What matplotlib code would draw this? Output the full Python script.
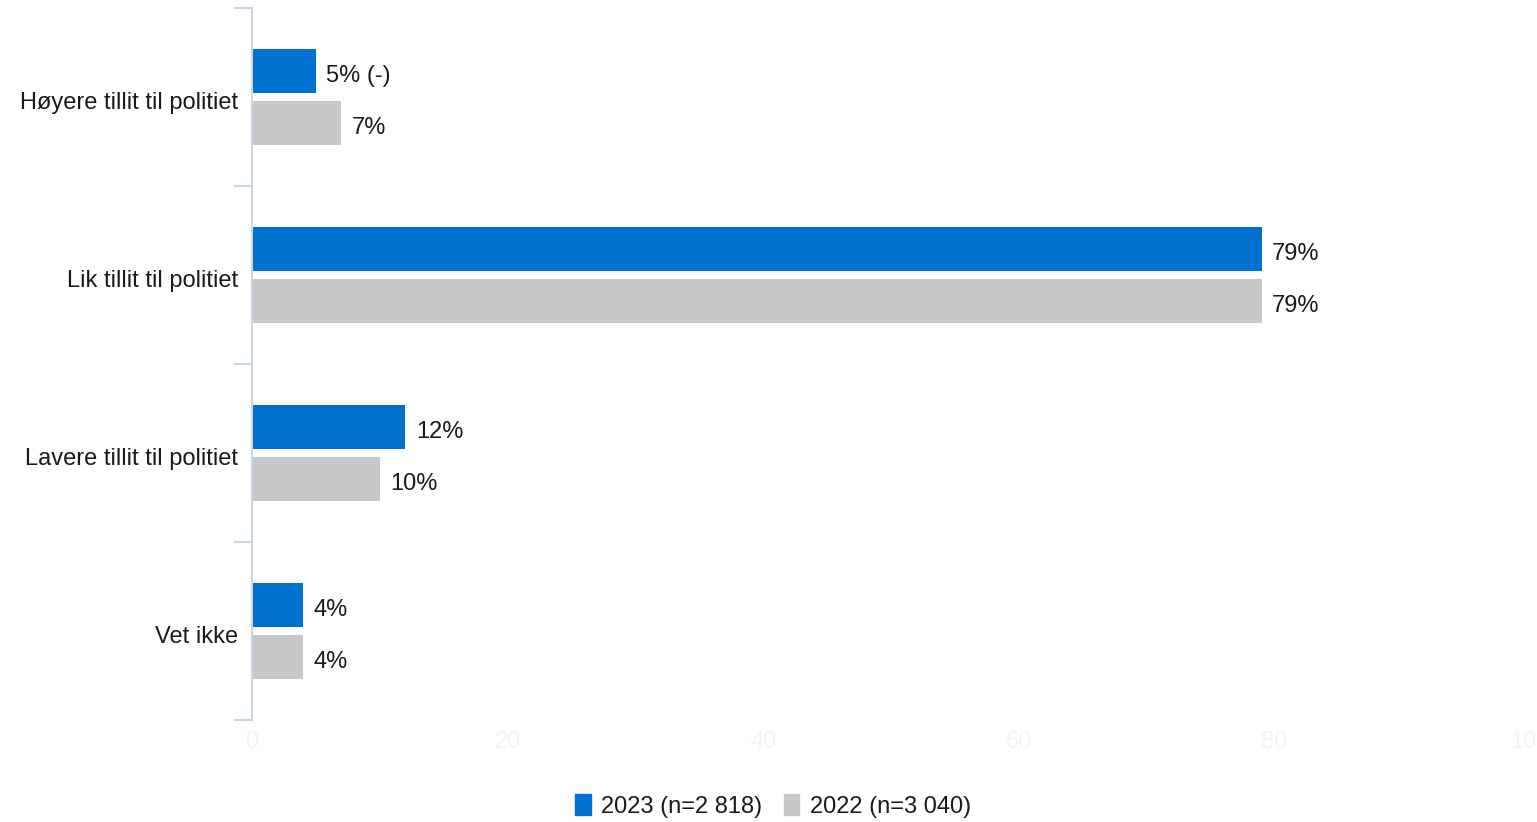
import numpy as np
import matplotlib
matplotlib.use('Agg')
import matplotlib.pyplot as plt
import matplotlib.transforms as mtransforms
from matplotlib.patches import Patch

plt.rcParams['font.family'] = ['Liberation Sans', 'DejaVu Sans']

categories = ['Høyere tillit til politiet', 'Lik tillit til politiet',
              'Lavere tillit til politiet', 'Vet ikke']
vals_2023 = [5, 79, 12, 4]
vals_2022 = [7, 79, 10, 4]
labels_2023 = ['5% (-)', '79%', '12%', '4%']
labels_2022 = ['7%', '79%', '10%', '4%']
series_names = ['2023 (n=2 818)', '2022 (n=3 040)']
xticks = [0, 20, 40, 60, 80, 100]

blue = '#0071CE'
gray = '#C7C8CA'
spine_col = '#CAD5E2'
txt = '#1A1A1A'
fs = 17

fig = plt.figure(figsize=(15.37, 8.22), dpi=100)
ax = fig.add_axes([252 / 1537, 1 - 720 / 822, (1530 - 252) / 1537, (720 - 8) / 822])

y = np.arange(len(categories))
off = 0.146
h = 0.247
b1 = ax.barh(y - off, vals_2023, height=h, color=blue)
b2 = ax.barh(y + off, vals_2022, height=h, color=gray)

# value labels to the right of each bar
for bars, labs in ((b1, labels_2023), (b2, labels_2022)):
    for rect, lab in zip(bars, labs):
        ax.annotate(lab, (rect.get_width(), rect.get_y() + rect.get_height() / 2),
                    xytext=(7.5, -3.5), textcoords='offset points', va='center', ha='left',
                    fontsize=fs, color=txt)

ax.set_xlim(0, 100)
ax.set_ylim(len(categories) - 0.5, -0.5)
ax.set_xticks(xticks)
ax.set_xticklabels([str(t) for t in xticks], color='#F3F4F6', fontsize=fs)
ax.tick_params(axis='x', length=0, pad=8)

ax.set_yticks(y)
ax.set_yticklabels(categories, fontsize=fs, color=txt)
ax.tick_params(axis='y', which='major', length=0, pad=10)
shift = mtransforms.ScaledTranslation(0, -3 / 100, fig.dpi_scale_trans)
for lab in ax.get_yticklabels():
    lab.set_transform(lab.get_transform() + shift)
ax.set_yticks(np.arange(len(categories) + 1) - 0.5, minor=True)
ax.tick_params(axis='y', which='minor', length=13, width=1.5, color=spine_col)

for s in ('top', 'right', 'bottom'):
    ax.spines[s].set_visible(False)
ax.spines['left'].set_color(spine_col)
ax.spines['left'].set_linewidth(1.5)

handles = [Patch(color=blue), Patch(color=gray)]
fig.legend(handles, series_names, loc='center', bbox_to_anchor=(0.503, 1 - 806 / 822),
           ncol=2, frameon=False, fontsize=fs, handlelength=0.65, handleheight=0.95,
           handletextpad=0.45, columnspacing=0.9, labelcolor=txt)

fig.savefig('out.png', dpi=100)
